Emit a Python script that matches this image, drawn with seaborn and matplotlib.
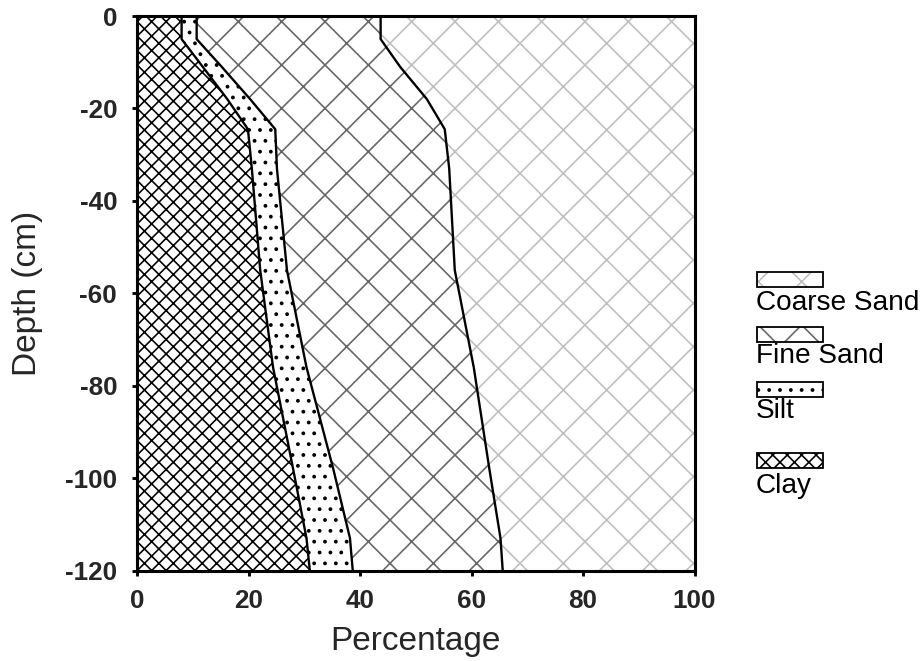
import numpy as np
import pandas as pd
import matplotlib
matplotlib.use("Agg")
import matplotlib.pyplot as plt
from matplotlib.patches import Rectangle
import seaborn as sns

# ---- data ----
depth = [0, -5, -11, -18, -24.5, -33, -55, -76, -98, -113, -120]
clay = [8.0, 8.0, 11.8, 16.2, 19.9, 20.6, 22.1, 24.4, 28.0, 30.4, 31.0]
silt = [2.7, 2.7, 3.4, 4.1, 4.9, 4.5, 4.8, 6.0, 7.2, 7.8, 7.7]
fine_sand = [33.0, 33.0, 32.0, 31.7, 30.4, 30.9, 30.1, 30.0, 28.0, 27.0, 26.9]
coarse_sand = [56.3, 56.3, 52.8, 48.0, 44.8, 44.0, 43.0, 39.6, 36.8, 34.8, 34.4]

classes = ["Coarse Sand", "Fine Sand", "Silt", "Clay"]
x_ticks = [0, 20, 40, 60, 80, 100]
y_ticks = [0, -20, -40, -60, -80, -100, -120]

DPI = 130
sns.set_theme(style="white")
plt.rcParams["font.family"] = ["Liberation Sans", "DejaVu Sans"]
plt.rcParams["hatch.linewidth"] = 0.9

df = pd.DataFrame({"depth": depth, "clay": clay, "silt": silt,
                   "fine_sand": fine_sand, "coarse_sand": coarse_sand})
df["clay_top"] = df["clay"]
df["silt_top"] = df["clay_top"] + df["silt"]
df["fine_top"] = df["silt_top"] + df["fine_sand"]
df["coarse_top"] = df["fine_top"] + df["coarse_sand"]

fig = plt.figure(figsize=(923 / DPI, 661 / DPI), dpi=DPI)
ax = fig.add_axes([137 / 923, 1 - 570.5 / 661, 557.5 / 923, 554.5 / 661])

styles = {
    "Clay": dict(hatch="xxx", color="black"),
    "Silt": dict(hatch="..", color="black"),
    "Fine Sand": dict(hatch="x", color="0.4"),
    "Coarse Sand": dict(hatch="x", color="0.75"),
}

zero = np.zeros(len(df))
layers = [("Clay", zero, df["clay_top"]),
          ("Silt", df["clay_top"], df["silt_top"]),
          ("Fine Sand", df["silt_top"], df["fine_top"]),
          ("Coarse Sand", df["fine_top"], df["coarse_top"])]
for name, lo, hi in layers:
    st = styles[name]
    ax.fill_betweenx(df["depth"], lo, hi, facecolor="white",
                     edgecolor=st["color"], hatch=st["hatch"], linewidth=0)

for col in ["clay_top", "silt_top", "fine_top"]:
    sns.lineplot(data=df, x=col, y="depth", orient="y", sort=False,
                 color="black", linewidth=1.3, ax=ax, legend=False)

ax.set_xlim(0, 100)
ax.set_ylim(-120, 0)
ax.set_xticks(x_ticks)
ax.set_yticks(y_ticks)
ax.set_xticklabels([str(v) for v in x_ticks], fontsize=14.5, fontweight="bold")
ax.set_yticklabels([str(v) for v in y_ticks], fontsize=14.5, fontweight="bold")
ax.tick_params(axis="both", direction="out", length=3, width=1.6, color="black",
               bottom=True, left=True)
ax.tick_params(axis="x", pad=7)
ax.tick_params(axis="y", pad=8)
for sp in ax.spines.values():
    sp.set_visible(True)
    sp.set_color("black")
    sp.set_linewidth(1.7)

ax.set_xlabel("Percentage", fontsize=18.5)
ax.set_ylabel("Depth (cm)", fontsize=18.5)
ax.xaxis.set_label_coords(0.5, -0.100)
ax.yaxis.set_label_coords(-0.169, 0.5)

# ---- legend (box above each label) ----
box_tops = [272, 327, 382, 453]
text_base = [310, 363, 418, 493]
for name, bt, tb in zip(classes, box_tops, text_base):
    st = styles[name]
    x0 = 757 / 923
    w = 66 / 923
    h = 15 / 661
    y0 = 1 - (bt + 15) / 661
    fig.add_artist(Rectangle((x0, y0), w, h, transform=fig.transFigure,
                             facecolor="white", edgecolor=st["color"],
                             hatch=st["hatch"], linewidth=0))
    fig.add_artist(Rectangle((x0, y0), w, h, transform=fig.transFigure,
                             facecolor="none", edgecolor="black", linewidth=1.0))
    fig.text(756 / 923, 1 - tb / 661, name, fontsize=15.5, ha="left",
             va="baseline", color="black")

fig.savefig("out.png", dpi=DPI)
